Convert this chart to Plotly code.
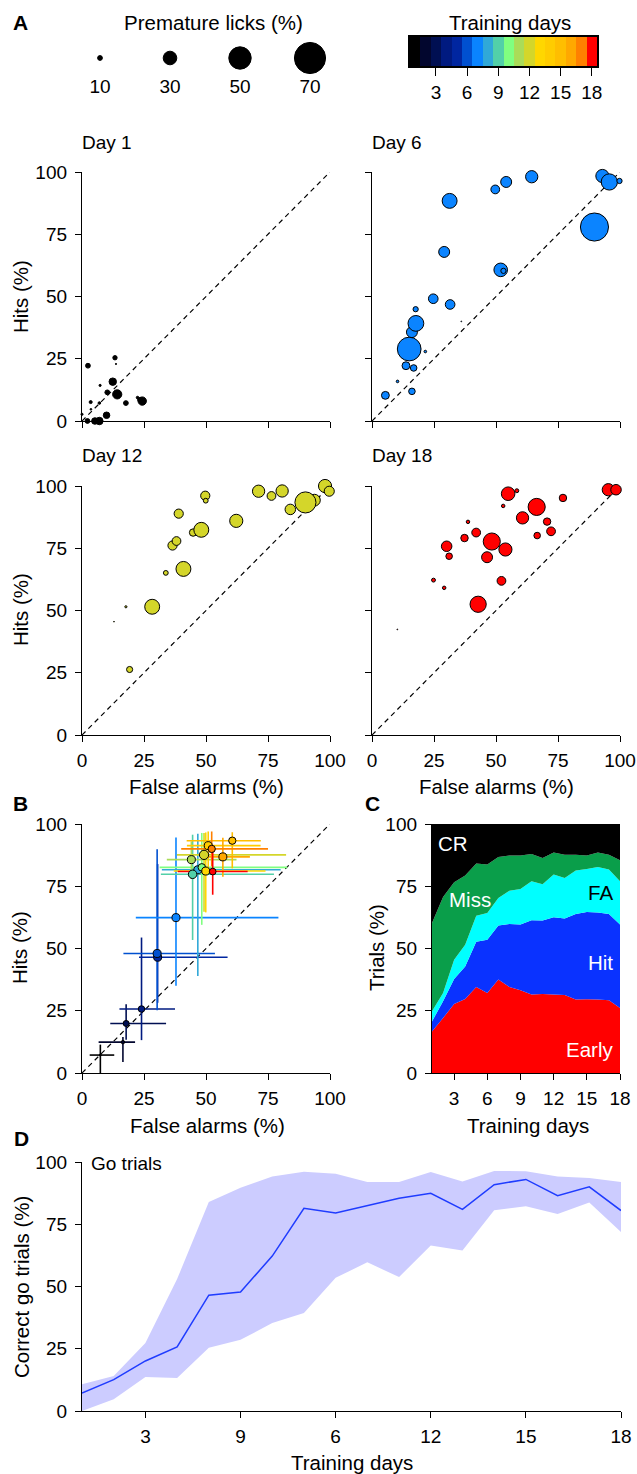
import plotly.graph_objects as go

W, H = 637, 1474
FONT = "Liberation Sans, Arial, Helvetica, sans-serif"
TICK = 19
TITLE = 20.5


def fx(p):
    return p / W


def fy(p):
    return 1 - p / H


# ---------------- DATA ----------------
identity = [0, 100]
legend_licks = [10, 30, 50, 70]
cb_days = list(range(1, 19))
day_colors = ["#000000", "#02062e", "#000f52", "#001a80", "#0026a0", "#0050d0",
              "#0a84ff", "#30a8d8", "#52d0a8", "#80ff80", "#aadc58", "#d4d62a",
              "#ffd700", "#ffcc00", "#ffbe00", "#ffa800", "#ff8000", "#ff0000"]

# Panel A, Day 1
d1_fa = [2.4, 13.3, 13.7, 7.3, 3.5, 12.4, 10.2, 14.2, 17.7, 22.4, 24.3, 23.4, 7.0, 3.6, 0.0, 2.2, 5.2, 7.0, 9.9]
d1_hit = [22.2, 25.4, 22.9, 14.3, 7.6, 15.8, 11.5, 10.7, 7.2, 9.4, 8.0, 8.5, 7.2, 4.7, 2.7, 0.0, 0.0, 0.0, 2.3]
d1_prem = [10, 9, 2, 4, 6, 16, 10, 20, 10, 5, 18, 10, 5, 3, 4, 10, 14, 16, 14]

# Day 6
d6_fa = [5.4, 16.1, 10.3, 13.7, 16.8, 21.5, 15.0, 16.1, 17.7, 17.6, 24.7, 31.5, 29.1, 31.3, 36.0, 51.9, 53.0,
         49.7, 54.1, 64.4, 89.7, 92.9, 95.7, 99.8]
d6_hit = [10.3, 11.9, 15.9, 22.2, 21.3, 27.9, 28.9, 35.7, 39.2, 44.9, 49.1, 46.8, 67.9, 88.4, 40.0, 60.7, 60.3,
          93.0, 96.0, 98.1, 77.9, 98.4, 96.0, 96.4]
d6_prem = [17, 14, 5, 17, 14, 5, 53, 24, 35, 11, 21, 21, 24, 33, 1, 30, 11, 19, 24, 27, 63, 29, 36, 11]

# Day 12
d12_fa = [19.2, 12.9, 17.7, 28.3, 33.8, 40.9, 36.5, 38.1, 39.0, 44.8, 48.1, 49.7, 49.9, 62.2, 71.2, 76.4, 80.7,
          84.0, 93.7, 90.1, 98.0, 100.5, 99.7]
d12_hit = [26.3, 45.5, 51.5, 51.5, 65.1, 66.7, 76.1, 77.9, 88.9, 81.3, 82.4, 96.1, 94.1, 86.0, 97.9, 96.0, 98.0,
           90.6, 94.3, 93.4, 100.0, 99.5, 97.9]
d12_prem = [13, 1, 4, 33, 10, 33, 20, 19, 20, 16, 33, 20, 10, 29, 27, 19, 27, 23, 26, 47, 29, 20, 22]

# Day 18
d18_fa = [10.2, 24.8, 29.1, 30.1, 31.1, 37.3, 38.7, 42.0, 42.8, 46.4, 48.3, 53.8, 52.2, 52.9, 54.9, 58.4, 60.7,
          66.4, 66.6, 70.6, 72.2, 77.0, 95.3, 98.4]
d18_hit = [42.4, 62.2, 59.1, 75.8, 71.8, 79.1, 85.6, 81.3, 52.5, 71.4, 77.7, 74.5, 61.9, 92.0, 96.9, 98.1, 87.2,
           91.6, 80.1, 85.7, 81.8, 95.2, 98.5, 98.5]
d18_prem = [1, 8, 7, 23, 14, 16, 7, 19, 36, 24, 38, 29, 19, 7, 30, 8, 27, 38, 14, 16, 19, 16, 27, 23]

# Panel B (per training day mean and range)
b_fa = [7.4, 16.5, 17.8, 24.0, 30.5, 30.3, 37.9, 46.7, 44.6, 48.3, 44.1, 49.2, 49.9, 50.9, 60.6, 56.8, 52.3, 52.7]
b_hit = [7.2, 12.4, 19.9, 25.7, 46.5, 48.0, 62.4, 81.6, 79.8, 82.6, 85.7, 87.6, 81.1, 91.3, 93.3, 86.8, 90.0, 80.9]
b_fa_lo = [3.1, 6.7, 11.4, 15.1, 23.0, 16.7, 21.7, 32.2, 31.8, 31.3, 34.2, 38.3, 37.0, 42.3, 42.2, 48.3, 40.0, 38.6]
b_fa_hi = [13.0, 21.4, 33.9, 37.5, 58.7, 53.6, 79.2, 80.1, 77.4, 82.8, 62.3, 82.3, 74.0, 72.0, 72.1, 67.7, 75.0, 66.8]
b_hit_lo = [0.0, 4.4, 13.4, 13.2, 28.2, 25.2, 35.0, 39.0, 53.4, 59.5, 78.0, 64.8, 64.5, 80.0, 82.2, 78.8, 83.0, 71.6]
b_hit_hi = [11.4, 14.5, 27.6, 54.4, 83.9, 89.9, 94.6, 96.1, 95.7, 96.4, 93.0, 96.4, 96.6, 97.0, 96.7, 94.5, 97.0, 90.4]
b_prem = [3.6, 7, 12.7, 13.9, 17.3, 17.3, 17.3, 17.3, 18.4, 16.1, 17.3, 20.2, 17.3, 17.3, 15.7, 17.3, 15.7, 14.3]

# Panel C (trial outcome %, per day)
c_early = [16.7, 22.1, 27.7, 29.7, 34.5, 32.1, 37.5, 34.5, 33.2, 31.5, 31.7, 31.5, 31.3, 29.5, 29.6, 29.5, 29.2, 26.1]
c_hit = [4.0, 6.7, 10.1, 13.1, 18.2, 21.4, 21.7, 25.3, 26.4, 29.8, 29.5, 31.0, 30.7, 34.4, 35.1, 35.0, 34.7, 33.5]
c_fa = [4.1, 3.3, 7.7, 8.7, 10.5, 10.8, 11.1, 13.4, 14.3, 15.7, 14.6, 17.2, 16.3, 17.4, 17.2, 18.2, 17.8, 17.4]
c_miss = [35.4, 38.6, 31.1, 27.8, 20.9, 19.4, 16.4, 14.1, 13.4, 11.0, 10.5, 8.9, 9.4, 6.4, 5.4, 5.9, 6.0, 8.4]
c_cr = [39.8, 29.3, 23.4, 20.7, 15.9, 16.3, 13.3, 12.7, 12.7, 12.0, 13.7, 11.4, 12.3, 12.3, 12.7, 11.4, 12.3, 14.6]

# Panel D (correct go trials %)
d_mean = [7.2, 12.6, 20.1, 25.7, 46.5, 47.8, 62.2, 81.4, 79.5, 82.6, 85.4, 87.4, 81.0, 90.9, 93.0, 86.5, 90.0, 80.5]
d_upper = [10.7, 14.1, 27.3, 53.0, 83.9, 89.7, 94.2, 96.1, 95.3, 92.0, 92.0, 96.0, 92.2, 96.4, 96.3, 94.2, 93.6, 92.0]
d_lower = [0.0, 4.7, 13.7, 13.3, 25.4, 28.6, 35.3, 39.4, 53.5, 59.7, 53.8, 66.5, 64.5, 80.6, 82.2, 79.1, 83.7, 71.9]
d_ticks = [3, 6, 9, 12, 15, 18]
d_ticktext = ["3", "9", "6", "12", "15", "18"]


def size_px(v):
    return [0.44 * x + 0.4 for x in v]


fig = go.Figure()

# ---------------- AXES ----------------
panels = {
    1: ((82, 330), (172, 421)),
    2: ((372, 620), (172, 421)),
    3: ((82, 330), (486, 735)),
    4: ((372, 620), (486, 735)),
    5: ((82, 330), (824, 1073)),
    6: ((432, 620), (824, 1073)),
    7: ((82, 621), (1162, 1411)),
}

tickfont = dict(size=TICK, family=FONT, color="black")


def axname(k, letter):
    return f"{letter}axis" if k == 1 else f"{letter}axis{k}"


def ref(k, letter):
    return letter if k == 1 else f"{letter}{k}"


layout_axes = {}
for k, ((x0, x1), (y0, y1)) in panels.items():
    common = dict(showline=True, linecolor="black", linewidth=1.3, ticks="outside", ticklen=6,
                  tickwidth=1.3, tickcolor="black", showgrid=False, zeroline=False, tickfont=tickfont,
                  automargin=False)
    xa = dict(common, domain=[fx(x0), fx(x1)], anchor=ref(k, "y"), ticklabelstandoff=2)
    ya = dict(common, domain=[fy(y1), fy(y0)], anchor=ref(k, "x"), ticklabelstandoff=4)
    if k <= 5:
        xa.update(range=[0, 100], tickvals=[0, 25, 50, 75, 100])
        ya.update(range=[0, 100], tickvals=[0, 25, 50, 75, 100])
        if k in (1, 2):
            xa["showticklabels"] = False
        if k in (2, 4):
            ya["showticklabels"] = False
    elif k == 6:
        xa.update(range=[1, 18], tickvals=d_ticks)
        ya.update(range=[0, 100], tickvals=[0, 25, 50, 75, 100])
    else:
        xa.update(range=[1, 18], tickvals=d_ticks, ticktext=d_ticktext)
        ya.update(range=[0, 100], tickvals=[0, 25, 50, 75, 100])
    layout_axes[axname(k, "x")] = xa
    layout_axes[axname(k, "y")] = ya

# size legend axes
layout_axes["xaxis8"] = dict(domain=[fx(65), fx(345)], range=[-0.5, 3.5], visible=False, anchor="y8",
                             automargin=False)
layout_axes["yaxis8"] = dict(domain=[fy(100), fy(40)], range=[0, 1], visible=False, anchor="x8",
                             automargin=False)
# colorbar axes
layout_axes["xaxis9"] = dict(domain=[fx(410), fx(597)], range=[0.5, 18.5], anchor="y9", tickvals=d_ticks,
                             ticks="outside", ticklen=8, tickwidth=1.3, tickcolor="black", showline=True,
                             mirror=True, linecolor="black", linewidth=1.5, showgrid=False, zeroline=False,
                             tickfont=tickfont, ticklabelstandoff=0, automargin=False)
layout_axes["yaxis9"] = dict(domain=[fy(66), fy(37)], range=[-0.5, 0.5], anchor="x9", showticklabels=False,
                             ticks="", showline=True, mirror=True, linecolor="black", linewidth=1.5,
                             showgrid=False, zeroline=False, automargin=False)

# ---------------- PANEL A ----------------
a_sets = [
    (1, d1_fa, d1_hit, d1_prem, "#000000"),
    (2, d6_fa, d6_hit, d6_prem, "#0b84ff"),
    (3, d12_fa, d12_hit, d12_prem, "#d4d62a"),
    (4, d18_fa, d18_hit, d18_prem, "#ff0000"),
]
for k, xs, ys, ps, col in a_sets:
    fig.add_trace(go.Scatter(x=identity, y=identity, mode="lines",
                             line=dict(color="black", width=1.2, dash="5px,4px"),
                             xaxis=ref(k, "x"), yaxis=ref(k, "y"), hoverinfo="skip"))
    fig.add_trace(go.Scatter(x=xs, y=ys, mode="markers", cliponaxis=False,
                             marker=dict(size=size_px(ps), color=col, line=dict(color="black", width=1),
                                         opacity=1),
                             xaxis=ref(k, "x"), yaxis=ref(k, "y")))

# ---------------- PANEL B ----------------
fig.add_trace(go.Scatter(x=identity, y=identity, mode="lines",
                         line=dict(color="black", width=1.2, dash="5px,4px"),
                         xaxis="x5", yaxis="y5", hoverinfo="skip"))
for i in range(len(b_fa)):
    fig.add_trace(go.Scatter(
        x=[b_fa[i]], y=[b_hit[i]], mode="markers", marker=dict(size=1, opacity=0), cliponaxis=False,
        error_x=dict(type="data", symmetric=False, array=[b_fa_hi[i] - b_fa[i]],
                     arrayminus=[b_fa[i] - b_fa_lo[i]], color=day_colors[i], thickness=1.6, width=0),
        error_y=dict(type="data", symmetric=False, array=[b_hit_hi[i] - b_hit[i]],
                     arrayminus=[b_hit[i] - b_hit_lo[i]], color=day_colors[i], thickness=1.6, width=0),
        xaxis="x5", yaxis="y5"))
fig.add_trace(go.Scatter(x=b_fa, y=b_hit, mode="markers", cliponaxis=False,
                         marker=dict(size=size_px(b_prem), color=day_colors, opacity=1,
                                     line=dict(color="black", width=1)),
                         xaxis="x5", yaxis="y5"))

# ---------------- PANEL C ----------------
for vals, col in [(c_early, "#ff0000"), (c_hit, "#0a32ff"), (c_fa, "#00ffff"),
                  (c_miss, "#0a9e4a"), (c_cr, "#000000")]:
    fig.add_trace(go.Scatter(x=cb_days, y=vals, stackgroup="one", mode="none", fillcolor=col,
                             line=dict(width=0), xaxis="x6", yaxis="y6"))

# ---------------- PANEL D ----------------
fig.add_trace(go.Scatter(x=cb_days, y=d_upper, mode="lines", line=dict(width=0, color="#ccccff"),
                         xaxis="x7", yaxis="y7", hoverinfo="skip"))
fig.add_trace(go.Scatter(x=cb_days, y=d_lower, mode="lines", line=dict(width=0, color="#ccccff"),
                         fill="tonexty", fillcolor="#ccccff", xaxis="x7", yaxis="y7", hoverinfo="skip"))
fig.add_trace(go.Scatter(x=cb_days, y=d_mean, mode="lines", line=dict(color="#1f3cff", width=1.5),
                         xaxis="x7", yaxis="y7", cliponaxis=False))

# ---------------- LEGENDS ----------------
fig.add_trace(go.Scatter(x=list(range(len(legend_licks))), y=[0.7] * len(legend_licks), mode="markers",
                         marker=dict(size=size_px(legend_licks), color="black", opacity=1,
                                     line=dict(color="black", width=1)),
                         xaxis="x8", yaxis="y8", cliponaxis=False))
fig.add_trace(go.Scatter(x=list(range(len(legend_licks))), y=[0.2] * len(legend_licks), mode="text",
                         text=[str(v) for v in legend_licks], textfont=tickfont,
                         xaxis="x8", yaxis="y8", cliponaxis=False))

n = len(day_colors)
cscale = []
for i, c in enumerate(day_colors):
    cscale.append([i / n, c])
    cscale.append([(i + 1) / n, c])
fig.add_trace(go.Heatmap(z=[cb_days], x=cb_days, y=[0], colorscale=cscale, zmin=0.5, zmax=18.5,
                         showscale=False, xaxis="x9", yaxis="y9", hoverinfo="skip"))

# ---------------- ANNOTATIONS ----------------
ann = []


def text(t, x, y, size=TITLE, color="black", bold=False, angle=0, xanchor="center"):
    ann.append(dict(text=f"<b>{t}</b>" if bold else t, x=fx(x), y=fy(y), xref="paper", yref="paper",
                    showarrow=False, xanchor=xanchor, yanchor="middle", textangle=angle,
                    font=dict(size=size, family=FONT, color=color)))


text("A", 20, 23, size=21, bold=True)
text("B", 20, 803, size=21, bold=True)
text("C", 372, 803, size=21, bold=True)
text("D", 21, 1138, size=21, bold=True)
text("Premature licks (%)", 213, 23)
text("Training days", 510, 23)
text("Day 1", 80, 142, size=TICK, xanchor="left")
text("Day 6", 370, 142, size=TICK, xanchor="left")
text("Day 12", 80, 456, size=TICK, xanchor="left")
text("Day 18", 370, 456, size=TICK, xanchor="left")
for yy in (297, 610, 948):
    text("Hits (%)", 20, yy, angle=-90)
text("False alarms (%)", 206, 787)
text("False alarms (%)", 496, 787)
text("False alarms (%)", 207, 1125)
text("Trials (%)", 377, 948, angle=-90)
text("Training days", 528, 1125)
text("Correct go trials (%)", 21, 1287, angle=-90)
text("Training days", 352, 1462)
text("Go trials", 89, 1163, size=TICK, xanchor="left")
text("CR", 453, 843, color="white")
text("Miss", 470, 899, color="white")
text("FA", 600, 892, color="black")
text("Hit", 600, 962, color="white")
text("Early", 589, 1049, color="white")

fig.update_layout(width=W, height=H, margin=dict(l=0, r=0, t=0, b=0, pad=0, autoexpand=False),
                  showlegend=False, paper_bgcolor="white", plot_bgcolor="white", annotations=ann,
                  font=dict(family=FONT, color="black"), **layout_axes)

fig.write_html("out.html",
               post_script="document.body.style.margin='0';document.body.style.overflow='hidden';")
